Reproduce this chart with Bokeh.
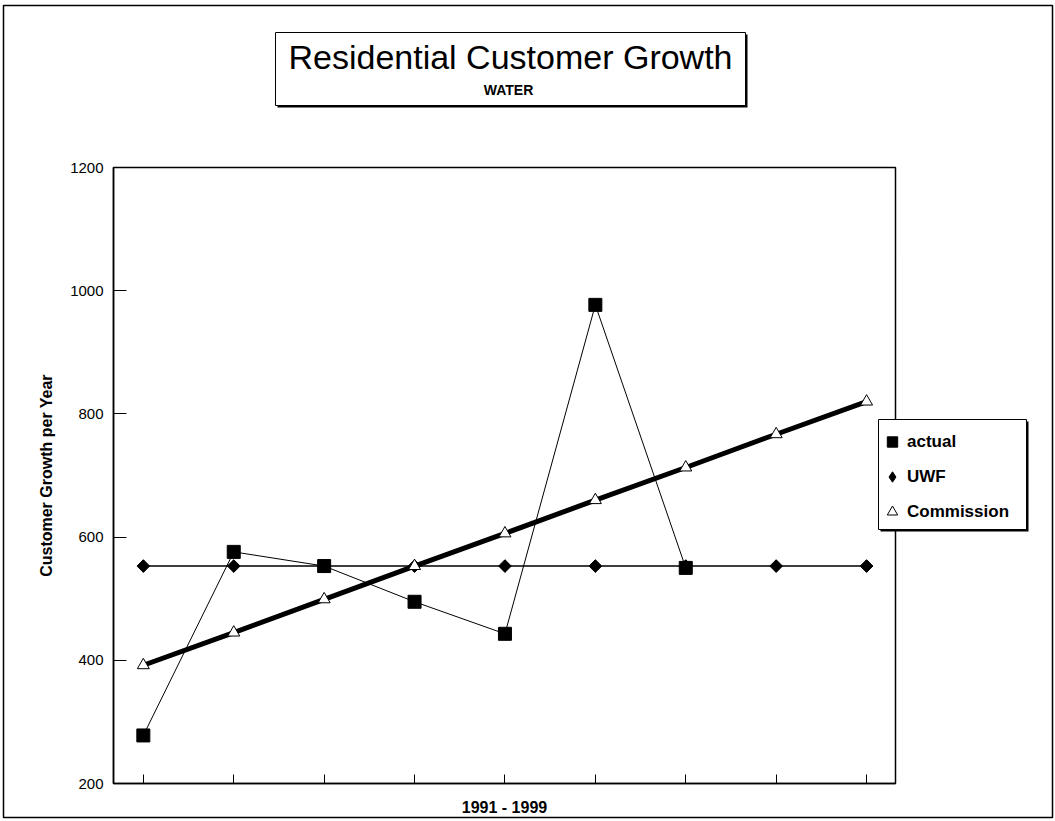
import math
from bokeh.plotting import figure
from bokeh.models import Range1d, FixedTicker, Label, BoxAnnotation, Legend, LegendItem
from bokeh.embed import file_html
from bokeh.resources import INLINE

# ---- data ----
years = [1991, 1992, 1993, 1994, 1995, 1996, 1997, 1998, 1999]
actual_years = [1991, 1992, 1993, 1994, 1995, 1996, 1997]
actual = [278, 576, 553, 495, 443, 977, 550]
uwf = [553, 553, 553, 553, 553, 553, 553, 553, 553]
commission = [392, 445, 499, 553, 606, 660, 713, 767, 820]
y_ticks = [200, 400, 600, 800, 1000, 1200]

FONT = "Liberation Sans"
W, H = 1055, 821

# plot-area placement in pixels
FL, FR, FT, FB = 113, 895, 167, 783
X0, X1 = 1990.67, 1999.32
Y0, Y1 = 200, 1200


def dx(px):
    return X0 + (px - FL) * (X1 - X0) / (FR - FL)


def dy(py):
    return Y0 + (FB - py) * (Y1 - Y0) / (FB - FT)


p = figure(width=W, height=H, output_backend="svg", toolbar_location=None,
           x_range=Range1d(dx(0), dx(W)), y_range=Range1d(dy(H), dy(0)),
           min_border=0)

p.xgrid.visible = False
p.ygrid.visible = False
p.background_fill_color = "white"
p.border_fill_color = "white"
p.outline_line_color = None

# x axis (pinned to the bottom of the plot area)
xa = p.xaxis[0]
xa.fixed_location = Y0
xa.bounds = (X0, X1)
xa.ticker = FixedTicker(ticks=years)
xa.major_label_overrides = {y: "" for y in years}
xa.major_label_text_font_size = "1px"
xa.major_label_standoff = 0
xa.major_tick_in = 9
xa.major_tick_out = 0
xa.minor_tick_line_color = None
xa.axis_line_width = 1.5
xa.major_tick_line_width = 1
xa.axis_label = "1991 - 1999"
xa.axis_label_text_font = FONT
xa.axis_label_text_font_size = "16px"
xa.axis_label_text_font_style = "bold"
xa.axis_label_text_color = "black"
xa.axis_label_standoff = 15

# y axis (pinned to the left of the plot area)
ya = p.yaxis[0]
ya.fixed_location = X0
ya.bounds = (Y0, Y1)
ya.ticker = FixedTicker(ticks=y_ticks)
ya.major_tick_in = 13
ya.major_tick_out = 0
ya.minor_tick_line_color = None
ya.axis_line_width = 1.5
ya.major_label_standoff = 10
ya.major_label_text_font = FONT
ya.major_label_text_font_size = "15px"
ya.major_label_text_color = "black"
ya.axis_label = "Customer Growth per Year"
ya.axis_label_text_font = FONT
ya.axis_label_text_font_size = "16px"
ya.axis_label_text_font_style = "bold"
ya.axis_label_text_color = "black"
ya.axis_label_standoff = 12

# outer frame
p.add_layout(BoxAnnotation(left=dx(3), right=dx(1052), top=dy(5), bottom=dy(817),
                           fill_alpha=0, line_color="black", line_width=1.5, line_alpha=1))
# plot area box
p.add_layout(BoxAnnotation(left=X0, right=X1, top=Y1, bottom=Y0,
                           fill_alpha=0, line_color="black", line_width=1.5, line_alpha=1))

# series
p.line(actual_years, actual, line_color="black", line_width=1)
p.line(years, uwf, line_color="black", line_width=1.5)
p.line(years, commission, line_color="black", line_width=5)
r_act = p.scatter(actual_years, actual, marker="square", size=13, color="black")
r_uwf = p.scatter(years, uwf, marker="diamond", size=12, color="black")
p.scatter(years, uwf, marker="square", angle=math.pi / 4, size=9, color="black")
r_com = p.scatter(years, commission, marker="triangle", size=12,
                  fill_color="white", line_color="black", line_width=1)

# title box with shadow
p.add_layout(BoxAnnotation(left=dx(277), right=dx(747), top=dy(34), bottom=dy(107),
                           fill_color="black", fill_alpha=1, line_color=None))
p.add_layout(BoxAnnotation(left=dx(275), right=dx(745), top=dy(32), bottom=dy(105),
                           fill_color="white", fill_alpha=1, line_color="black",
                           line_width=1, line_alpha=1))
p.add_layout(Label(x=dx(510), y=dy(56), text="Residential Customer Growth",
                   text_align="center", text_baseline="middle",
                   text_font=FONT, text_font_size="34px", text_color="black"))
p.add_layout(Label(x=dx(508), y=dy(89), text="WATER",
                   text_align="center", text_baseline="middle",
                   text_font=FONT, text_font_size="14px", text_font_style="bold",
                   text_color="black"))

# legend frame with shadow, then a borderless legend inside it
p.add_layout(BoxAnnotation(left=dx(880), right=dx(1028), top=dy(421), bottom=dy(531),
                           fill_color="black", fill_alpha=1, line_color=None))
p.add_layout(BoxAnnotation(left=dx(878), right=dx(1026), top=dy(419), bottom=dy(529),
                           fill_color="white", fill_alpha=1, line_color="black",
                           line_width=1, line_alpha=1))
legend = Legend(items=[LegendItem(label="actual", renderers=[r_act]),
                       LegendItem(label="UWF", renderers=[r_uwf]),
                       LegendItem(label="Commission", renderers=[r_com])],
                location=(879, H - 525),
                label_text_font=FONT, label_text_font_size="17px",
                label_text_font_style="bold", label_text_color="black",
                border_line_color=None, background_fill_alpha=0,
                padding=0, spacing=8, glyph_width=26, glyph_height=27,
                label_height=27, label_standoff=2, margin=0)
p.add_layout(legend)

open("out.html", "w").write(file_html(p, INLINE))
